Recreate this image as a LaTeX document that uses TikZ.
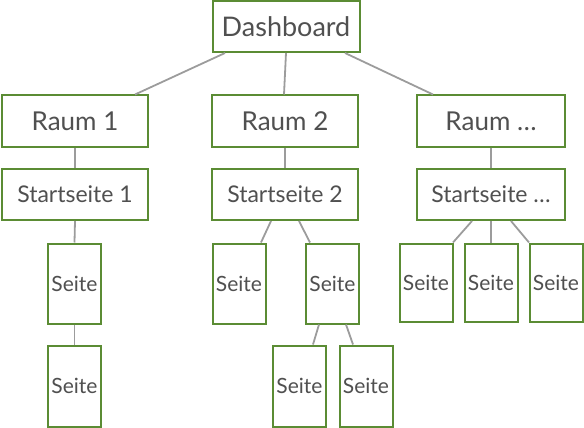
\documentclass[tikz,border=0pt]{standalone}
\usepackage{fontspec}
\setmainfont{Lato}
\usetikzlibrary{calc}
\definecolor{boxgreen}{HTML}{5B8C34}
\definecolor{linegray}{HTML}{9C9C9C}
\definecolor{txt}{HTML}{505050}
\tikzset{
  box/.style={draw=boxgreen, line width=2pt, fill=white, text=txt, inner sep=0pt, align=center},
  big/.style={box, minimum width=146pt, minimum height=51pt, font=\fontsize{26}{28}\selectfont},
  mid/.style={box, minimum width=146pt, minimum height=51pt, font=\fontsize{23}{26}\selectfont},
  pg/.style={box, minimum width=53pt, minimum height=80pt, font=\fontsize{21}{24}\selectfont},
  conn/.style={draw=linegray, line width=1.8pt},
}
\begin{document}
\begin{tikzpicture}[x=1pt,y=-1pt]
\useasboundingbox (0,0) rectangle (584,428);
\node[big, minimum width=147pt, font=\fontsize{27}{30}\selectfont] (dash) at (286,26.5) {Dashboard};
\node[big] (r1) at (75,121) {Raum 1};
\node[big] (r2) at (285,121) {Raum 2};
\node[big, minimum width=148pt] (r3) at (491,121) {Raum …};
\node[mid] (s1) at (75,194.5) {Startseite 1};
\node[mid] (s2) at (285,194.5) {Startseite 2};
\node[mid, minimum width=148pt] (s3) at (491,194.5) {Startseite …};
\node[pg] (p1a) at (74.5,283.5) {Seite};
\node[pg, minimum height=81pt] (p1b) at (74.5,386) {Seite};
\node[pg] (p2a) at (239,283.5) {Seite};
\node[pg] (p2b) at (332.5,283.5) {Seite};
\node[pg, minimum height=81pt] (p2c) at (299.5,386) {Seite};
\node[pg, minimum height=81pt] (p2d) at (366,386) {Seite};
\node[pg, minimum height=78pt] (p3a) at (426,282.5) {Seite};
\node[pg, minimum height=78pt] (p3b) at (491,282.5) {Seite};
\node[pg, minimum height=78pt] (p3c) at (556,282.5) {Seite};
\path[conn] ($(dash.south)+(-61,0)$) -- ($(r1.north)+(60,0)$);
\path[conn] (dash.south) -- ($(r2.north)+(-1,0)$);
\path[conn] ($(dash.south)+(59,0)$) -- ($(r3.north)+(-58,0)$);
\path[conn] (r1.south) -- (s1.north);
\path[conn] (r2.south) -- (s2.north);
\path[conn] (r3.south) -- (s3.north);
\path[conn] (s1.south) -- (p1a.north);
\path[conn] (p1a.south) -- (p1b.north);
\path[conn] ($(s2.south)+(-14,0)$) -- ($(p2a.north)+(22,0)$);
\path[conn] ($(s2.south)+(14,0)$) -- ($(p2b.north)+(-22.5,0)$);
\path[conn] ($(p2b.south)+(-13.5,0)$) -- ($(p2c.north)+(13.5,0)$);
\path[conn] ($(p2b.south)+(13.5,0)$) -- ($(p2d.north)+(-13,0)$);
\path[conn] ($(s3.south)+(-19,0)$) -- ($(p3a.north)+(27,0)$);
\path[conn] (s3.south) -- (p3b.north);
\path[conn] ($(s3.south)+(20,0)$) -- ($(p3c.north)+(-27,0)$);
\end{tikzpicture}
\end{document}
